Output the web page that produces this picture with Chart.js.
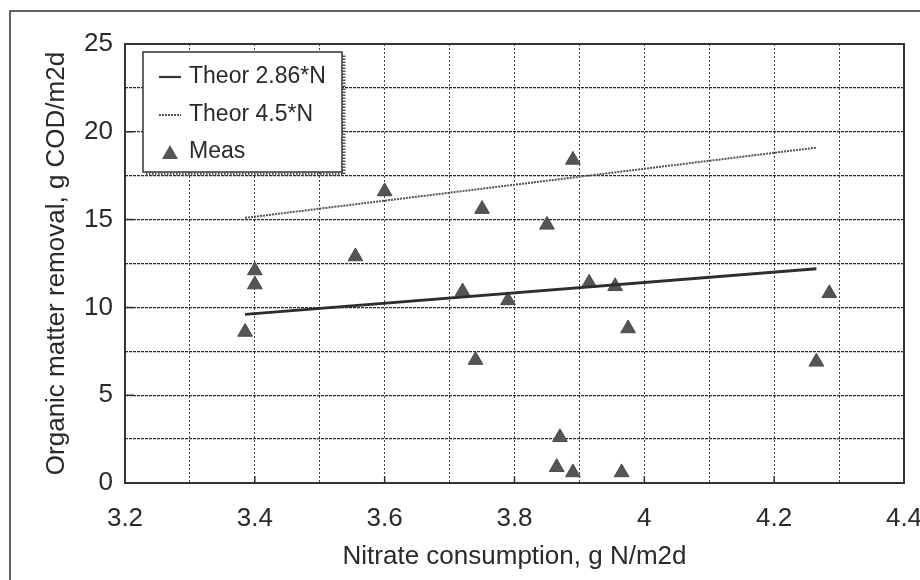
<!DOCTYPE html>
<html>
<head>
<meta charset="utf-8">
<script src="https://cdn.jsdelivr.net/npm/chart.js@4/dist/chart.umd.min.js"></script>
<style>
  html, body { margin: 0; padding: 0; background: #fff; }
  #wrap { width: 920px; height: 580px; }
</style>
</head>
<body>
<div id="wrap"><canvas id="mycanvas" width="920" height="580"></canvas></div>
<script>
// measured points: nitrate consumption (g N/m2d) vs organic matter removal (g COD/m2d)
var measX = [3.385, 3.40, 3.40, 3.555, 3.60, 3.72, 3.74, 3.75, 3.79, 3.85, 3.865, 3.87, 3.89, 3.89, 3.915, 3.955, 3.965, 3.975, 4.265, 4.285];
var measY = [8.6, 11.3, 12.1, 12.9, 16.6, 10.9, 7.0, 15.6, 10.4, 14.7, 0.9, 2.6, 18.4, 0.6, 11.4, 11.2, 0.6, 8.8, 6.9, 10.8];

// theoretical lines, end points
var theorX = [3.385, 4.265];
var theor286Y = [9.6, 12.2];
var theor45Y = [15.1, 19.1];

var legendLabels = ['Theor 2.86*N', 'Theor 4.5*N', 'Meas'];

var FONT = "'Liberation Sans', Arial, Helvetica, sans-serif";
var INK = '#2a2a2a';

function pairs(xs, ys) {
	var out = [];
	for (var i in xs) {
		out.push({x: xs[i], y: ys[i]});
	}
	return out;
}

// outer frame, plot box, inner tick marks and the boxed legend
var decor = {
	id: 'decor',
	beforeDraw: function(chart) {
		var ctx = chart.ctx;
		ctx.save();
		ctx.strokeStyle = '#333';
		ctx.lineWidth = 1.5;
		ctx.beginPath();
		ctx.moveTo(10, 580);
		ctx.lineTo(10, 11);
		ctx.lineTo(920, 11);
		ctx.stroke();
		ctx.restore();
	},
	afterDatasetsDraw: function(chart) {
		var ctx = chart.ctx;
		var a = chart.chartArea;
		var xs = chart.scales.x, ys = chart.scales.y;
		ctx.save();
		ctx.setLineDash([]);
		ctx.strokeStyle = '#333';
		ctx.lineWidth = 2;
		ctx.strokeRect(a.left, a.top, a.right - a.left, a.bottom - a.top);

		ctx.lineWidth = 1.5;
		ctx.beginPath();
		for (var v = 3.4; v < 4.35; v += 0.2) {
			var px = xs.getPixelForValue(v);
			ctx.moveTo(px, a.bottom);
			ctx.lineTo(px, a.bottom - 7);
		}
		for (var w = 5; w < 25; w += 5) {
			var py = ys.getPixelForValue(w);
			ctx.moveTo(a.left, py);
			ctx.lineTo(a.left + 9, py);
		}
		ctx.stroke();

		// legend box with dotted drop shadow
		var bx = 143, by = 52, bw = 199, bh = 120;
		ctx.fillStyle = '#fff';
		ctx.fillRect(bx, by, bw, bh);
		ctx.strokeStyle = '#555';
		ctx.lineWidth = 3;
		ctx.setLineDash([1.5, 1.5]);
		ctx.beginPath();
		ctx.moveTo(bx + 3, by + bh + 2);
		ctx.lineTo(bx + bw + 2, by + bh + 2);
		ctx.lineTo(bx + bw + 2, by + 3);
		ctx.stroke();
		ctx.setLineDash([]);
		ctx.strokeStyle = '#333';
		ctx.lineWidth = 1.5;
		ctx.strokeRect(bx, by, bw, bh);

		ctx.fillStyle = INK;
		ctx.font = '23px ' + FONT;
		ctx.textBaseline = 'alphabetic';
		ctx.textAlign = 'left';
		var rows = [83, 121, 158];
		for (var i = 0; i < legendLabels.length; i++) {
			ctx.fillText(legendLabels[i], 189, rows[i]);
		}
		ctx.strokeStyle = '#333';
		ctx.lineWidth = 2.2;
		ctx.beginPath();
		ctx.moveTo(159, 77); ctx.lineTo(181, 77);
		ctx.stroke();
		ctx.strokeStyle = '#555';
		ctx.lineWidth = 1.8;
		ctx.setLineDash([2, 1]);
		ctx.beginPath();
		ctx.moveTo(159, 115); ctx.lineTo(181, 115);
		ctx.stroke();
		ctx.setLineDash([]);
		ctx.fillStyle = '#555';
		ctx.beginPath();
		ctx.moveTo(170, 145);
		ctx.lineTo(178, 159);
		ctx.lineTo(162, 159);
		ctx.closePath();
		ctx.fill();
		ctx.restore();
	}
};

var ctx = document.getElementById('mycanvas');

var chart = new Chart(ctx, {
	type: 'scatter',
	data: {
		datasets: [
			{
				label: legendLabels[0],
				type: 'line',
				data: pairs(theorX, theor286Y),
				borderColor: '#2e2e2e',
				borderWidth: 2.8,
				pointRadius: 0,
				fill: false
			},
			{
				label: legendLabels[1],
				type: 'line',
				data: pairs(theorX, theor45Y),
				borderColor: '#555',
				borderWidth: 2,
				borderDash: [2, 1],
				pointRadius: 0,
				fill: false
			},
			{
				label: legendLabels[2],
				data: pairs(measX, measY),
				pointStyle: 'triangle',
				pointRadius: 8.5,
				pointHoverRadius: 8.5,
				backgroundColor: '#555',
				borderColor: '#4a4a4a',
				borderWidth: 1
			}
		]
	},
	options: {
		responsive: false,
		animation: false,
		layout: { padding: { top: 44, right: 16, left: 0, bottom: 0 } },
		plugins: {
			legend: { display: false },
			tooltip: { enabled: false }
		},
		scales: {
			x: {
				type: 'linear',
				min: 3.2,
				max: 4.4,
				afterFit: function(scale) {
					scale.height = 97;
					scale.paddingLeft = 0;
					scale.paddingRight = 0;
				},
				ticks: {
					stepSize: 0.1,
					autoSkip: false,
					maxRotation: 0,
					padding: 20,
					color: INK,
					font: { family: FONT, size: 26 },
					callback: function(v) {
						var t = Math.round(v * 10);
						return t % 2 === 0 ? String(t / 10) : '';
					}
				},
				grid: {
					color: '#444',
					lineWidth: 1,
					drawTicks: false
				},
				border: { display: false, dash: [2, 2] },
				title: {
					display: true,
					text: 'Nitrate consumption, g N/m2d',
					color: INK,
					font: { family: FONT, size: 26 },
					padding: { top: 0, bottom: 8 }
				}
			},
			y: {
				min: 0,
				max: 25,
				afterFit: function(scale) {
					scale.width = 125;
					scale.paddingTop = 0;
					scale.paddingBottom = 0;
				},
				ticks: {
					stepSize: 2.5,
					autoSkip: false,
					padding: 12,
					color: INK,
					font: { family: FONT, size: 26 },
					callback: function(v) {
						return v % 5 === 0 ? String(v) : '';
					}
				},
				grid: {
					color: '#2a2a2a',
					lineWidth: 1.3,
					drawTicks: false
				},
				border: { display: false, dash: [3, 1] },
				title: {
					display: true,
					text: 'Organic matter removal, g COD/m2d',
					color: INK,
					font: { family: FONT, size: 26 },
					padding: { top: 41, bottom: 0 }
				}
			}
		}
	},
	plugins: [decor]
});
</script>
</body>
</html>
